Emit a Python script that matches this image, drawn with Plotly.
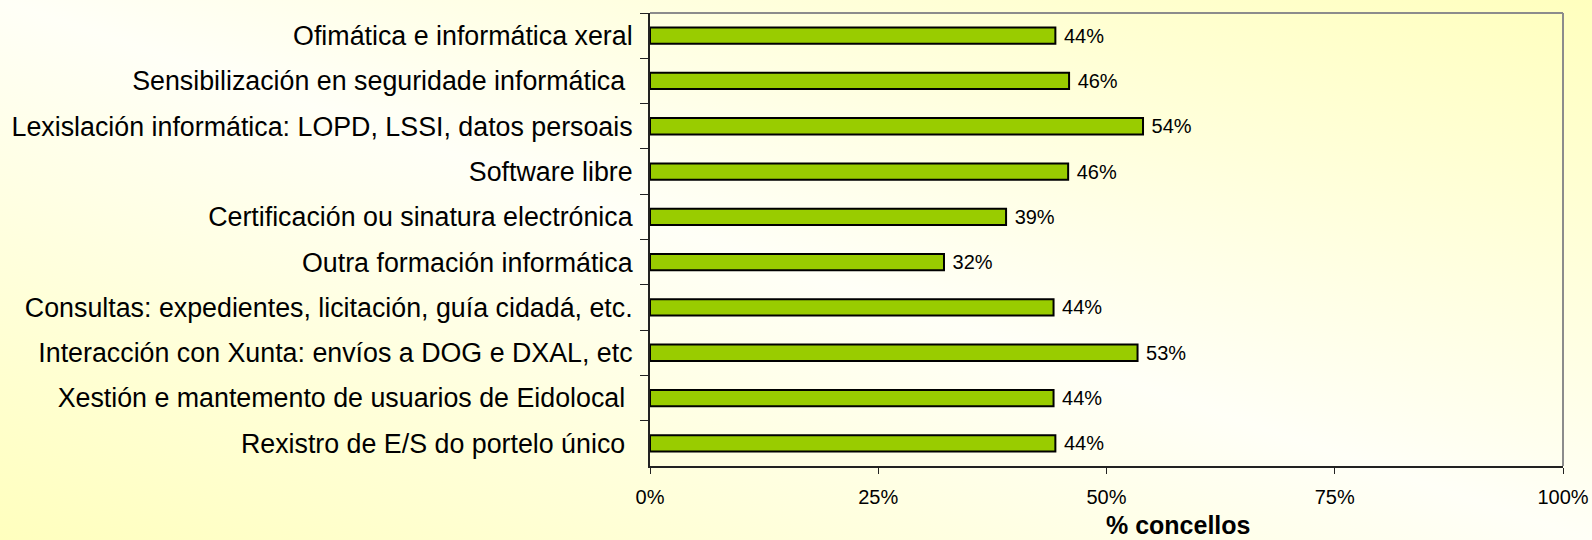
import base64
import plotly.graph_objects as go

# categories, top to bottom as in the original chart
categories = [
    "Ofimática e informática xeral",
    "Sensibilización en seguridade informática\u00a0",
    "Lexislación informática: LOPD, LSSI, datos persoais",
    "Software libre",
    "Certificación ou sinatura electrónica",
    "Outra formación informática",
    "Consultas: expedientes, licitación, guía cidadá, etc.",
    "Interacción con Xunta: envíos a DOG e DXAL, etc",
    "Xestión e mantemento de usuarios de Eidolocal\u00a0",
    "Rexistro de E/S do portelo único\u00a0",
]
share_concellos = [0.444, 0.459, 0.540, 0.458, 0.390, 0.322, 0.442, 0.534, 0.442, 0.444]
x_ticks = [0, 0.25, 0.5, 0.75, 1.0]

W, H = 1592, 540
margin = dict(l=650, r=29, t=13, b=74)
FONT = "Liberation Sans, Arial, sans-serif"

# diagonal yellow -> white -> yellow background, as in the excel chart
svg = (
    '<svg xmlns="http://www.w3.org/2000/svg" width="100" height="100" '
    'viewBox="0 0 1 1" preserveAspectRatio="none">'
    '<defs><linearGradient id="g" x1="0" y1="1" x2="1" y2="0">'
    '<stop offset="0" stop-color="#FFFFBE"/>'
    '<stop offset="0.5" stop-color="#FFFFF7"/>'
    '<stop offset="1" stop-color="#FFFFBE"/>'
    '</linearGradient></defs>'
    '<rect x="0" y="0" width="1" height="1" fill="url(#g)"/></svg>'
)
bg_src = "data:image/svg+xml;base64," + base64.b64encode(svg.encode()).decode()

pw = W - margin["l"] - margin["r"]
ph = H - margin["t"] - margin["b"]

fig = go.Figure()
fig.add_trace(
    go.Bar(
        x=share_concellos,
        y=categories,
        orientation="h",
        marker=dict(color="#99CC00", line=dict(color="#000000", width=2)),
        texttemplate="\u00a0%{x:.0%}",
        textposition="outside",
        constraintext="none",
        textfont=dict(family=FONT, size=20, color="#000000"),
        cliponaxis=False,
        hoverinfo="skip",
    )
)

fig.update_layout(
    width=W,
    height=H,
    margin=dict(margin, autoexpand=False),
    paper_bgcolor="#FFFFE8",
    plot_bgcolor="rgba(0,0,0,0)",
    bargap=0.64,
    showlegend=False,
    font=dict(family=FONT, color="#000000"),
    images=[
        dict(
            source=bg_src,
            xref="paper", yref="paper",
            x=-margin["l"] / pw, y=1 + margin["t"] / ph,
            sizex=W / pw, sizey=H / ph,
            sizing="stretch", layer="below",
            xanchor="left", yanchor="top",
        )
    ],
    shapes=[
        # grey frame on top and right of the plot area
        dict(type="line", xref="paper", yref="paper", x0=0, x1=1, y0=1, y1=1,
             line=dict(color="#8C8C8C", width=2)),
        dict(type="line", xref="paper", yref="paper", x0=1, x1=1, y0=0, y1=1,
             line=dict(color="#8C8C8C", width=2)),
    ],
    annotations=[
        dict(
            text="<b>% concellos</b>",
            xref="paper", yref="paper",
            x=(1178 - margin["l"]) / pw, y=-0.13,
            xanchor="center", yanchor="middle",
            showarrow=False,
            font=dict(family=FONT, size=25, color="#000000"),
        )
    ],
)

fig.update_xaxes(
    range=[0, 1],
    tickvals=x_ticks,
    tickformat=".0%",
    showgrid=False,
    zeroline=False,
    showline=True,
    linecolor="#222222",
    linewidth=2,
    ticks="outside",
    ticklen=6,
    tickcolor="#222222",
    tickwidth=1,
    ticklabelstandoff=6,
    automargin=False,
    tickfont=dict(family=FONT, size=20, color="#000000"),
)
fig.update_yaxes(
    autorange="reversed",
    showgrid=False,
    showline=True,
    linecolor="#222222",
    linewidth=2,
    ticks="outside",
    tickson="boundaries",
    ticklen=8,
    tickcolor="#222222",
    tickwidth=1,
    ticklabelstandoff=10,
    automargin=False,
    tickfont=dict(family=FONT, size=26.8, color="#000000"),
)

# drop the default 8px page margin so the chart fills the window
fig.write_html(
    "out.html",
    config={"displayModeBar": False},
    post_script="document.body.style.margin='0';",
)
